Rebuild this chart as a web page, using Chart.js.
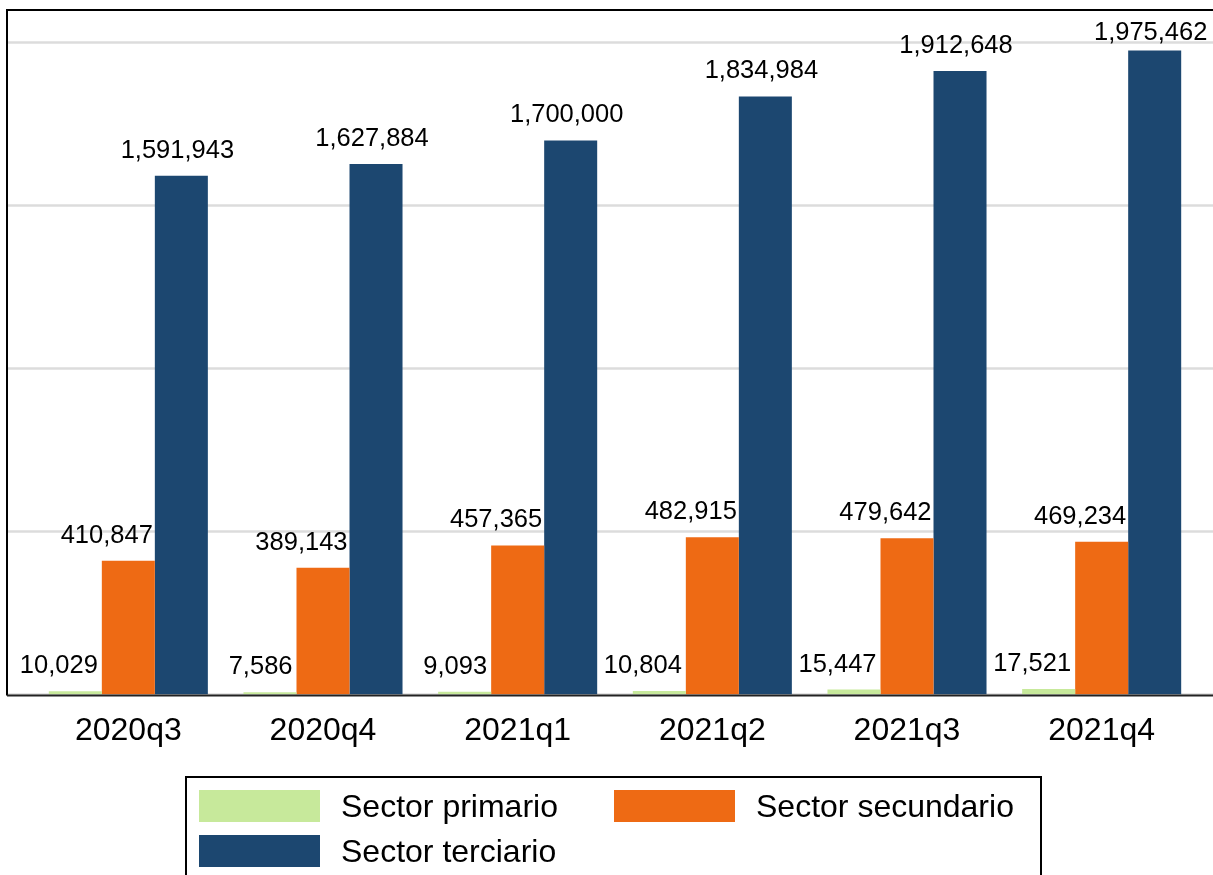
<!DOCTYPE html>
<html>
<head>
<meta charset="utf-8">
<title>Ocupados por sector</title>
<script src="https://cdn.jsdelivr.net/npm/chart.js@4/dist/chart.umd.min.js"></script>
<style>
    html, body { margin: 0; padding: 0; background: #fff; overflow: hidden; }
    .wrap { position: relative; width: 1213px; height: 875px; }
    #legend {
        position: absolute; left: 185px; top: 776px; width: 857px; height: 120px;
        border: 2px solid #000; box-sizing: border-box;
        font-family: "Liberation Sans", Arial, sans-serif; font-size: 32px; color: #000;
    }
    .item { position: absolute; display: flex; align-items: center; height: 34px; }
    .swatch { width: 121px; height: 32px; margin-right: 21px; }
</style>
</head>
<body>
<div class="wrap">
    <canvas id="chart" width="1213" height="875"></canvas>
    <div id="legend"></div>
</div>
<script>
// Quarters and employment by sector
const quarters = ['2020q3', '2020q4', '2021q1', '2021q2', '2021q3', '2021q4'];
const seriesNames = ['Sector primario', 'Sector secundario', 'Sector terciario'];
const primario = [10029, 7586, 9093, 10804, 15447, 17521];
const secundario = [410847, 389143, 457365, 482915, 479642, 469234];
const terciario = [1591943, 1627884, 1700000, 1834984, 1912648, 1975462];
const seriesColors = ['#c7e99b', '#ee6a14', '#1c4770'];

const GRID_STEP = 500000;
const FONT = '"Liberation Sans", Arial, sans-serif';
const FRAME_MARGIN = 24;

function fmt(v) {
    return v.toLocaleString('en-US');
}

// Light grid behind the bars, spanning the whole framed region
const gridPlugin = {
    id: 'grid',
    beforeDatasetsDraw(chart) {
        const { ctx, chartArea, scales } = chart;
        const left = chartArea.left - FRAME_MARGIN;
        const right = chartArea.right + FRAME_MARGIN;
        ctx.save();
        ctx.strokeStyle = '#dcdcdc';
        ctx.lineWidth = 2.5;
        for (let v = 0; v <= scales.y.max; v += GRID_STEP) {
            const y = scales.y.getPixelForValue(v);
            ctx.beginPath();
            ctx.moveTo(left, y);
            ctx.lineTo(right, y);
            ctx.stroke();
        }
        ctx.restore();
    }
};

// Value labels over the bars, then the frame and the baseline
const labelPlugin = {
    id: 'barLabels',
    afterDatasetsDraw(chart) {
        const { ctx, chartArea, scales } = chart;
        ctx.save();
        ctx.font = '25.5px ' + FONT;
        ctx.fillStyle = '#000';
        ctx.textBaseline = 'alphabetic';
        chart.data.datasets.forEach((ds, di) => {
            const meta = chart.getDatasetMeta(di);
            meta.data.forEach((bar, i) => {
                const right = bar.x + bar.width / 2;
                let x = bar.x - 4;
                ctx.textAlign = 'center';
                if (di === 0) { x = right - 4; ctx.textAlign = 'right'; }
                if (di === 1) { x = right - 2; ctx.textAlign = 'right'; }
                const y = Math.max(bar.y - 18, chartArea.top + 30);
                ctx.fillText(fmt(ds.data[i]), x, y);
            });
        });

        const left = chartArea.left - FRAME_MARGIN;
        const right = chartArea.right + FRAME_MARGIN;
        const base = scales.y.getPixelForValue(0);
        ctx.strokeStyle = '#000';
        ctx.lineWidth = 2;
        ctx.beginPath();
        ctx.moveTo(left, base + 1);
        ctx.lineTo(left, chartArea.top);
        ctx.lineTo(right, chartArea.top);
        ctx.stroke();
        ctx.strokeStyle = '#222';
        ctx.beginPath();
        ctx.moveTo(left, base + 1);
        ctx.lineTo(right, base + 1);
        ctx.stroke();
        ctx.restore();
    }
};

function buildLegend(chart) {
    const legend = document.getElementById('legend');
    const spots = [
        { left: 12, top: 11 },
        { left: 427, top: 11 },
        { left: 12, top: 56 }
    ];
    chart.data.datasets.forEach((ds, i) => {
        const item = document.createElement('div');
        item.className = 'item';
        item.style.left = spots[i].left + 'px';
        item.style.top = spots[i].top + 'px';
        const sw = document.createElement('span');
        sw.className = 'swatch';
        sw.style.background = ds.backgroundColor;
        const txt = document.createElement('span');
        txt.textContent = ds.label;
        item.appendChild(sw);
        item.appendChild(txt);
        legend.appendChild(item);
    });
}

const chart = new Chart(document.getElementById('chart'), {
    type: 'bar',
    data: {
        labels: quarters,
        datasets: [primario, secundario, terciario].map((values, i) => ({
            label: seriesNames[i],
            data: values,
            backgroundColor: seriesColors[i],
            borderWidth: 0,
            categoryPercentage: 0.817,
            barPercentage: 1.0
        }))
    },
    options: {
        responsive: false,
        animation: false,
        devicePixelRatio: 1,
        layout: { padding: { left: 31, right: 14, top: 10, bottom: 108 } },
        plugins: {
            legend: { display: false },
            tooltip: { enabled: false }
        },
        scales: {
            x: {
                grid: { display: false, drawTicks: false },
                border: { display: false },
                ticks: {
                    color: '#000',
                    padding: 17,
                    font: { family: FONT, size: 32 }
                }
            },
            y: {
                display: false,
                min: 0,
                max: 2100000
            }
        }
    },
    plugins: [gridPlugin, labelPlugin]
});

buildLegend(chart);
</script>
</body>
</html>
